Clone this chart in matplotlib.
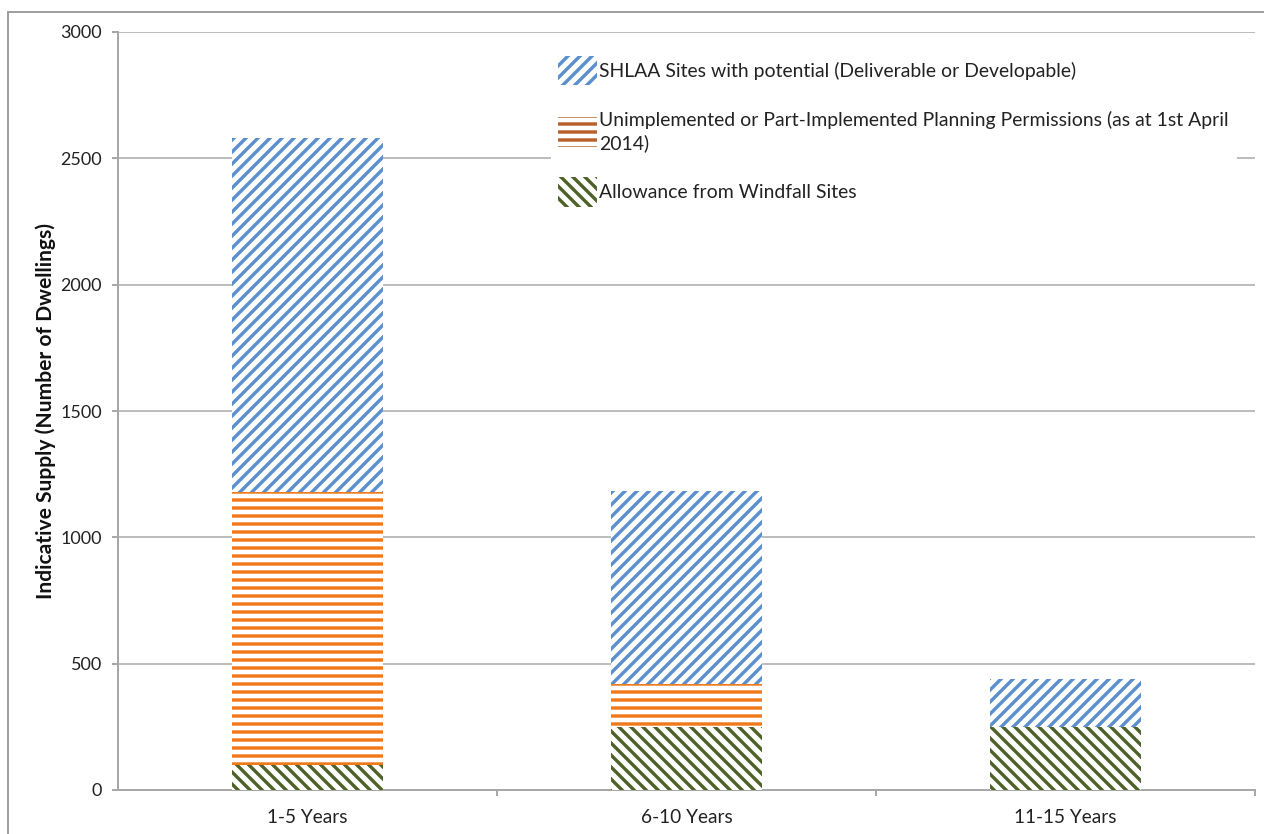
import matplotlib
matplotlib.use("Agg")
import matplotlib.pyplot as plt
from matplotlib.patches import Patch, Rectangle
import numpy as np

# indicative housing supply by period (dwellings)
periods = ["1-5 Years", "6-10 Years", "11-15 Years"]
windfall = [100, 250, 250]
permissions = [1080, 170, 0]
shlaa = [1400, 765, 190]

series_names = [
    "SHLAA Sites with potential (Deliverable or Developable)",
    "Unimplemented or Part-Implemented Planning Permissions (as at 1st April\n2014)",
    "Allowance from Windfall Sites",
]

BLUE = "#5B8FCF"
ORANGE = "#F07A1A"
ORANGE_KEY = "#B5612B"
GREEN = "#4F6228"
GRID = "#A8A8A8"

HATCH_UP = "////"
HATCH_DOWN = "\\\\\\\\"
HATCH_FLAT = "---"

plt.rcParams["font.family"] = ["Lato", "DejaVu Sans"]
plt.rcParams["hatch.linewidth"] = 1.7

DPI = 144
fig = plt.figure(figsize=(1264 / DPI, 834 / DPI), dpi=DPI)
ax = fig.add_axes([118 / 1264, 1 - 790 / 834, (1255 - 118) / 1264, (790 - 32) / 834])

x = np.arange(len(periods))
w = 0.40
bottom2 = np.array(windfall)
bottom3 = bottom2 + np.array(permissions)

ax.bar(x, windfall, w, facecolor="white", edgecolor=GREEN, hatch=HATCH_DOWN,
       linewidth=0, zorder=3)
ax.bar(x, permissions, w, bottom=bottom2, facecolor="white", edgecolor=ORANGE,
       hatch=HATCH_FLAT, linewidth=0, zorder=3)
ax.bar(x, shlaa, w, bottom=bottom3, facecolor="white", edgecolor=BLUE, hatch=HATCH_UP,
       linewidth=0, zorder=3)

ax.set_xlim(-0.5, 2.5)
ax.set_ylim(0, 3000)
ax.set_yticks(np.arange(0, 3001, 500))
ax.set_xticks(x)
ax.set_xticklabels(periods)
ax.set_xticks([0.5, 1.5, 2.5], minor=True)
ax.tick_params(axis="x", which="major", length=0, pad=9.5, labelsize=9.5, labelcolor="#222222")
ax.tick_params(axis="x", which="minor", length=3, width=1, color=GRID, direction="out")
ax.tick_params(axis="y", length=3, width=1, color=GRID, pad=5, labelsize=9,
               labelcolor="#222222")

ax.grid(axis="y", color=GRID, linewidth=0.75, zorder=0)
ax.set_axisbelow(True)
for side in ("top", "right"):
    ax.spines[side].set_visible(False)
for side in ("left", "bottom"):
    ax.spines[side].set_color(GRID)
    ax.spines[side].set_linewidth(1)

ax.set_ylabel("Indicative Supply (Number of Dwellings)", fontsize=10.5, fontweight="bold",
              color="#111111", labelpad=2)

handles = [
    Patch(facecolor="white", edgecolor=BLUE, hatch=HATCH_UP, linewidth=0),
    Patch(facecolor="white", edgecolor=ORANGE_KEY, hatch=HATCH_FLAT, linewidth=0),
    Patch(facecolor="white", edgecolor=GREEN, hatch=HATCH_DOWN, linewidth=0),
]
leg = ax.legend(handles, series_names, loc="upper left", bbox_to_anchor=(0.372, 0.992),
                fontsize=9.7, frameon=True, fancybox=False, framealpha=1,
                facecolor="white", edgecolor="none", handlelength=2.0, handleheight=2.0,
                handletextpad=0.1, labelspacing=1.3, borderpad=0.4)
for t in leg.get_texts():
    t.set_color("#222222")
    t.set_linespacing(1.35)

# outer chart border
fig.add_artist(Rectangle((8 / 1264, -0.1), 1.2, 1.1 - 12 / 834, transform=fig.transFigure,
                         fill=False, edgecolor="#A0A0A0", linewidth=1))

fig.savefig("out.png", dpi=DPI)
